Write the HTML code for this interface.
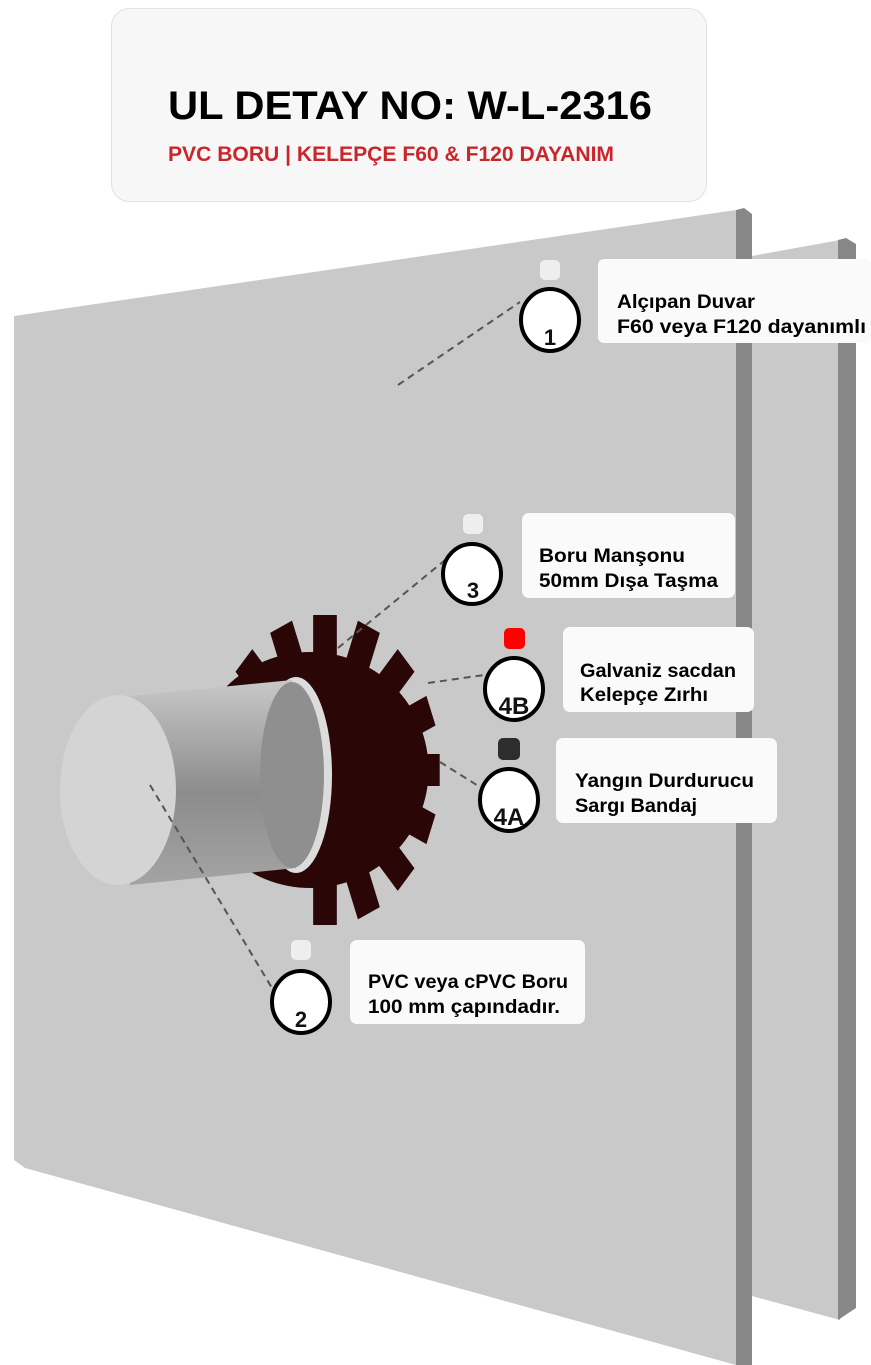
<!DOCTYPE html>
<html><head><meta charset="utf-8"><style>
html,body{margin:0;padding:0;background:#fff;}
svg{display:block;}
text{font-family:"Liberation Sans","DejaVu Sans",sans-serif;font-weight:bold;}
</style></head><body>
<svg width="871" height="1365" viewBox="0 0 871 1365" xmlns="http://www.w3.org/2000/svg">
<defs>
<linearGradient id="pg" x1="0" y1="0" x2="0" y2="1">
<stop offset="0" stop-color="#c8c8c8"/><stop offset="0.55" stop-color="#8c8c8c"/><stop offset="1" stop-color="#a4a4a4"/>
</linearGradient>
</defs>
<!-- back panel -->
<polygon points="752,256 840,240 840,1320 752,1296" fill="#c9c9c9"/>
<polygon points="838,240 846,238 856,244 856,1308 838,1320" fill="#878787"/>
<!-- front panel -->
<polygon points="14,316 736,210 736,1365 25,1168 14,1160" fill="#c9c9c9"/>
<polygon points="736,210 744,208 752,214 752,1365 736,1365" fill="#878787"/>

<!-- header -->
<rect x="111.5" y="8.5" width="595" height="193" rx="18" fill="#f7f7f7" stroke="#e2e2e2"/>
<text x="168" y="119" font-size="40" textLength="484" lengthAdjust="spacingAndGlyphs" fill="#000">UL DETAY NO: W-L-2316</text>
<text x="168" y="161" font-size="21" textLength="446" lengthAdjust="spacingAndGlyphs" fill="#c8262b">PVC BORU | KELEPÇE F60 &amp; F120 DAYANIM</text>

<!-- collar -->
<g transform="translate(325,770) scale(0.74,1)" fill="#2a0606">
<ellipse cx="-20" cy="0" rx="160" ry="118"/>
<g id="t"><rect x="-16" y="-155" width="32" height="58"/></g>
<use href="#t" transform="rotate(22.5)"/><use href="#t" transform="rotate(45)"/><use href="#t" transform="rotate(67.5)"/>
<use href="#t" transform="rotate(90)"/><use href="#t" transform="rotate(112.5)"/><use href="#t" transform="rotate(135)"/>
<use href="#t" transform="rotate(157.5)"/><use href="#t" transform="rotate(180)"/><use href="#t" transform="rotate(-22.5)"/>
<use href="#t" transform="rotate(-45)"/>
</g>
<!-- pipe -->
<ellipse cx="296" cy="775" rx="36" ry="98" fill="#dcdcdc"/>
<polygon points="120,697 292,680 296,868 130,885" fill="url(#pg)"/>
<ellipse cx="292" cy="775" rx="32" ry="93" fill="#8f8f8f"/>
<ellipse cx="118" cy="790" rx="58" ry="95" fill="#d4d4d4"/>

<!-- dashed leaders -->
<g stroke="#555" stroke-width="2" stroke-dasharray="7,5" fill="none">
<line x1="398" y1="385" x2="520" y2="302"/>
<line x1="338" y1="648" x2="450" y2="556"/>
<line x1="428" y1="683" x2="484" y2="675"/>
<line x1="440" y1="762" x2="480" y2="787"/>
<line x1="150" y1="785" x2="272" y2="988"/>
</g>

<!-- markers -->
<g fill="#eeeeee"><rect x="540" y="260" width="20" height="20" rx="5"/><rect x="463" y="514" width="20" height="20" rx="5"/><rect x="291" y="940" width="20" height="20" rx="5"/></g>
<rect x="504" y="628" width="21" height="21" rx="5" fill="#f00"/>
<rect x="498" y="738" width="22" height="22" rx="5" fill="#2d2d2d"/>

<g fill="#fff" stroke="#000" stroke-width="4">
<ellipse cx="550" cy="320" rx="29" ry="31"/>
<ellipse cx="472" cy="574" rx="29" ry="30"/>
<ellipse cx="514" cy="689" rx="29" ry="31"/>
<ellipse cx="509" cy="800" rx="29" ry="31"/>
<ellipse cx="301" cy="1002" rx="29" ry="31"/>
</g>
<g fill="#111" font-size="22" text-anchor="middle">
<text x="550" y="345">1</text>
<text x="473" y="598">3</text>
<text x="514" y="714" font-size="24">4B</text>
<text x="509" y="825" font-size="24">4A</text>
<text x="301" y="1027">2</text>
</g>

<!-- label boxes -->
<g fill="#fafafa">
<rect x="598" y="259" width="273" height="84" rx="6"/>
<rect x="522" y="513" width="213" height="85" rx="7"/>
<rect x="563" y="627" width="191" height="85" rx="7"/>
<rect x="556" y="738" width="221" height="85" rx="7"/>
<rect x="350" y="940" width="235" height="84" rx="7"/>
</g>
<g fill="#000" font-size="19">
<text x="617" y="308" textLength="138" lengthAdjust="spacingAndGlyphs">Alçıpan Duvar</text>
<text x="617" y="333" textLength="249" lengthAdjust="spacingAndGlyphs">F60 veya F120 dayanımlı</text>
<text x="539" y="562" textLength="146" lengthAdjust="spacingAndGlyphs">Boru Manşonu</text>
<text x="539" y="587" textLength="179" lengthAdjust="spacingAndGlyphs">50mm Dışa Taşma</text>
<text x="580" y="677" textLength="156" lengthAdjust="spacingAndGlyphs">Galvaniz sacdan</text>
<text x="580" y="701" textLength="128" lengthAdjust="spacingAndGlyphs">Kelepçe Zırhı</text>
<text x="575" y="787" textLength="179" lengthAdjust="spacingAndGlyphs">Yangın Durdurucu</text>
<text x="575" y="812" textLength="122" lengthAdjust="spacingAndGlyphs">Sargı Bandaj</text>
<text x="368" y="988" textLength="200" lengthAdjust="spacingAndGlyphs">PVC veya cPVC Boru</text>
<text x="368" y="1013" textLength="192" lengthAdjust="spacingAndGlyphs">100 mm çapındadır.</text>
</g>
</svg>
</body></html>
